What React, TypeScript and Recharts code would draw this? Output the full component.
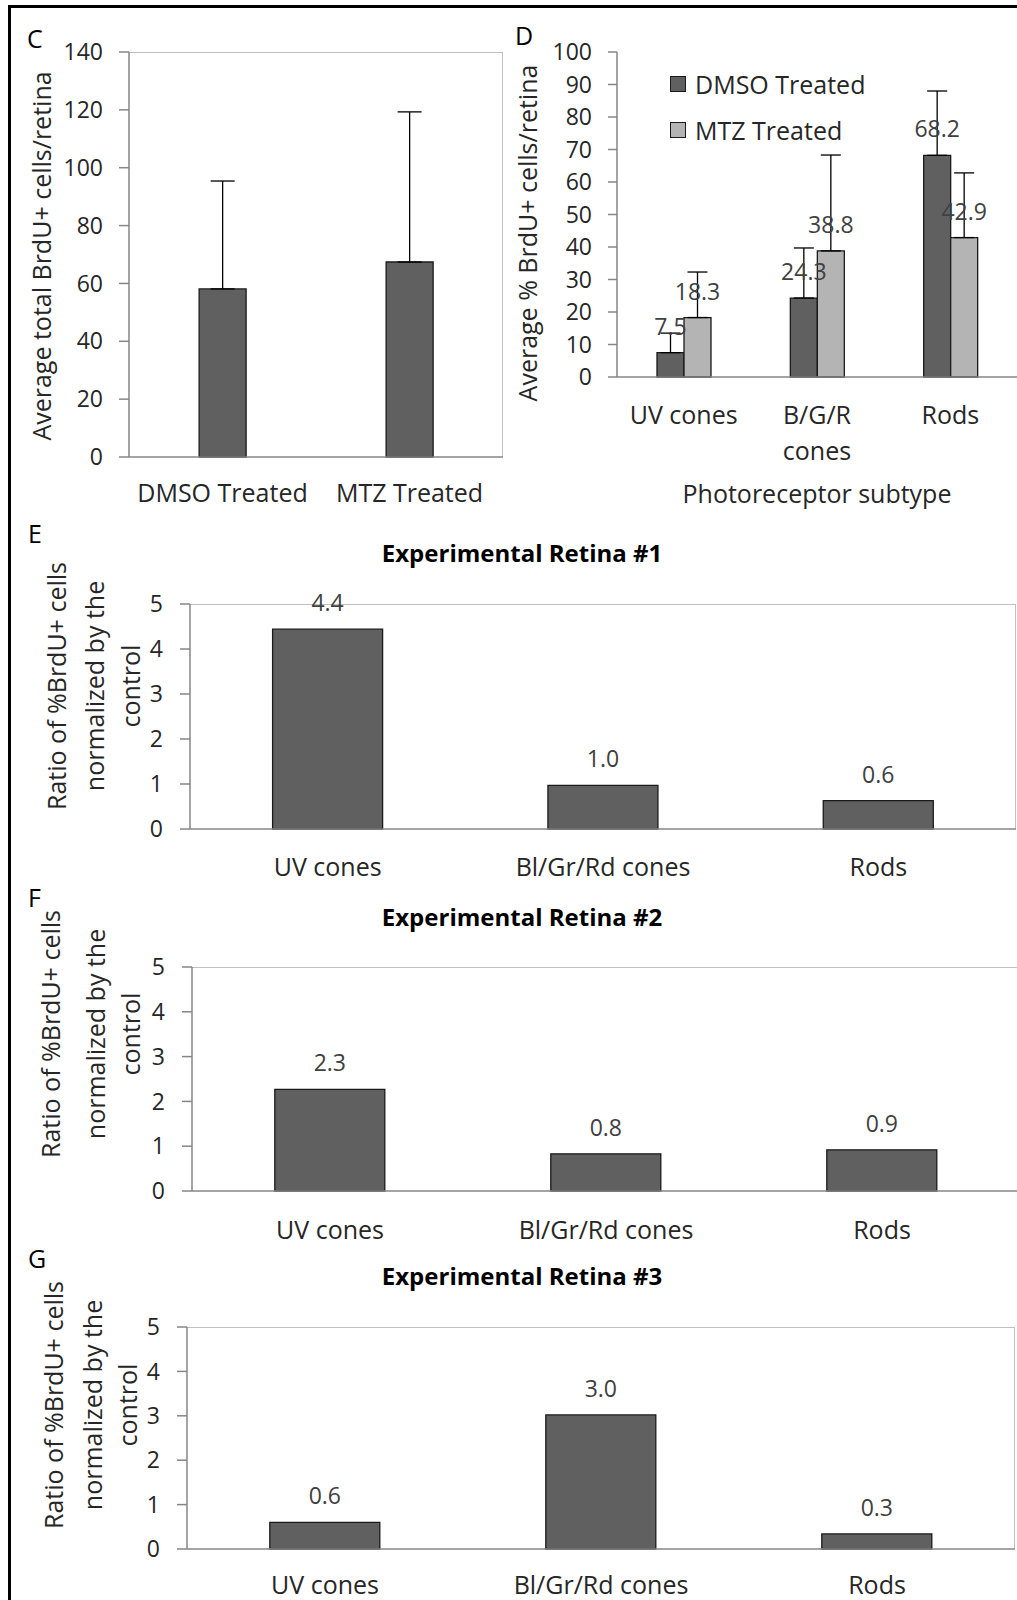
import React from "react";
import { BarChart, Bar, XAxis, YAxis, ErrorBar, LabelList } from "recharts";

// panel C - total BrdU+ cells
const totalCategories = ["DMSO Treated", "MTZ Treated"];
const totalMeans = [58.1, 67.4];
const totalErrors = [37.3, 51.9];
const totalTicks = [0, 20, 40, 60, 80, 100, 120, 140];

// panel D - % BrdU+ by photoreceptor subtype
const subtypeCategories = ["UV cones", "B/G/R\ncones", "Rods"];
const dmsoMeans = [7.5, 24.3, 68.2];
const dmsoErrors = [6.0, 15.4, 19.8];
const mtzMeans = [18.3, 38.8, 42.9];
const mtzErrors = [14.0, 29.5, 19.9];
const percentTicks = [0, 10, 20, 30, 40, 50, 60, 70, 80, 90, 100];

// panels E-G - ratios normalized by control
const ratioCategories = ["UV cones", "Bl/Gr/Rd cones", "Rods"];
const retina1 = [4.44, 0.97, 0.63];
const retina2 = [2.27, 0.83, 0.92];
const retina3 = [0.6, 3.02, 0.34];
const ratioTicks = [0, 1, 2, 3, 4, 5];

const FONT = '"Open Sans", sans-serif';
const TEXT = "#262626";
const AXIS = "#868686";
const BORDER = "#c0c0c0";
const DARK = "#606060";
const LIGHT = "#b4b4b4";
const OUTLINE = "#1a1a1a";

const fmt = (v: any) => Number(v).toFixed(1);

type Box = { x0: number; x1: number; y0: number; y1: number };

function margins(box: Box, L: number, T: number, W: number, H: number, yw: number, xh: number) {
  return {
    top: box.y0 - T,
    left: box.x0 - L - yw,
    right: L + W - box.x1,
    bottom: T + H - box.y1 - xh,
  };
}

function Txt({ x, y, children, size = 25, bold = false, rotate = false, anchor = "middle", color = TEXT }: any) {
  const tx = anchor === "start" ? "0" : "-50%";
  return (
    <div
      style={{
        position: "absolute",
        left: x,
        top: y,
        transform: `translate(${tx},-50%)${rotate ? " rotate(-90deg)" : ""}`,
        fontSize: size,
        fontWeight: bold ? 700 : 400,
        color,
        whiteSpace: "nowrap",
        lineHeight: 1,
      }}
    >
      {children}
    </div>
  );
}

function PlotBorder({ box }: { box: Box }) {
  return (
    <div
      style={{
        position: "absolute",
        left: box.x0,
        top: box.y0,
        width: box.x1 - box.x0,
        height: box.y1 - box.y0,
        borderTop: `1.5px solid ${BORDER}`,
        borderRight: `1.5px solid ${BORDER}`,
        boxSizing: "border-box",
      }}
    />
  );
}

const CatTick = (props: any) => {
  const { x, y, payload, size, gap } = props;
  const lines = String(payload.value).split("\n");
  return (
    <text x={x} y={y} textAnchor="middle" fill={TEXT} fontSize={size} fontFamily={FONT}>
      {lines.map((l, i) => (
        <tspan key={i} x={x} dy={i === 0 ? size * 0.71 : gap}>
          {l}
        </tspan>
      ))}
    </text>
  );
};

const yTick = { fontSize: 23, fill: TEXT, fontFamily: FONT };

function TotalPanel() {
  const box = { x0: 129, x1: 503, y0: 52, y1: 457 };
  const L = 0, T = 0, W = 510, H = 530;
  const data = totalCategories.map((name, i) => ({ name, value: totalMeans[i], err: [0, totalErrors[i]] }));
  return (
    <>
      <PlotBorder box={box} />
      <div style={{ position: "absolute", left: L, top: T }}>
        <BarChart width={W} height={H} data={data} margin={margins(box, L, T, W, H, 60, 50)} barCategoryGap="37.5%">
          <XAxis dataKey="name" height={50} axisLine={{ stroke: AXIS, strokeWidth: 1.5 }} tickLine={false} tickSize={0} tickMargin={27} tick={(p: any) => <CatTick {...p} size={25} gap={35} />} />
          <YAxis width={60} domain={[0, 140]} ticks={totalTicks} interval={0} axisLine={{ stroke: AXIS, strokeWidth: 1.5 }} tickLine={{ stroke: AXIS, strokeWidth: 1.5 }} tickSize={10} tickMargin={16} tick={yTick} />
          <Bar dataKey="value" fill={DARK} stroke={OUTLINE} strokeWidth={1.3} isAnimationActive={false}>
            <ErrorBar dataKey="err" width={12} stroke="#000" strokeWidth={1.3} direction="y" />
          </Bar>
        </BarChart>
      </div>
      <Txt x={27} y={38} anchor="start" color="#000">C</Txt>
      <Txt x={41} y={256} rotate>Average total BrdU+ cells/retina</Txt>
    </>
  );
}

function SubtypePanel() {
  const box = { x0: 617, x1: 1017, y0: 52, y1: 377 };
  const L = 510, T = 0, W = 507, H = 530;
  const data = subtypeCategories.map((name, i) => ({
    name,
    dmso: dmsoMeans[i],
    mtz: mtzMeans[i],
    dmsoErr: [0, dmsoErrors[i]],
    mtzErr: [0, mtzErrors[i]],
  }));
  const labelStyle = { fill: "#404040", fontSize: 23, fontFamily: FONT };
  return (
    <>
      <div style={{ position: "absolute", left: L, top: T }}>
        <BarChart width={W} height={H} data={data} margin={margins(box, L, T, W, H, 60, 80)} barCategoryGap="30%" barGap={0}>
          <XAxis dataKey="name" height={80} axisLine={{ stroke: AXIS, strokeWidth: 1.5 }} tickLine={false} tickSize={0} tickMargin={29} tick={(p: any) => <CatTick {...p} size={25} gap={36} />} />
          <YAxis width={60} domain={[0, 100]} ticks={percentTicks} interval={0} axisLine={{ stroke: AXIS, strokeWidth: 1.5 }} tickLine={{ stroke: AXIS, strokeWidth: 1.5 }} tickSize={9} tickMargin={16} tick={yTick} />
          <Bar dataKey="dmso" fill={DARK} stroke={OUTLINE} strokeWidth={1.3} isAnimationActive={false}>
            <LabelList dataKey="dmso" position="top" offset={18} formatter={fmt} {...labelStyle} />
            <ErrorBar dataKey="dmsoErr" width={10} stroke="#000" strokeWidth={1.3} direction="y" />
          </Bar>
          <Bar dataKey="mtz" fill={LIGHT} stroke={OUTLINE} strokeWidth={1.3} isAnimationActive={false}>
            <LabelList dataKey="mtz" position="top" offset={18} formatter={fmt} {...labelStyle} />
            <ErrorBar dataKey="mtzErr" width={10} stroke="#000" strokeWidth={1.3} direction="y" />
          </Bar>
        </BarChart>
      </div>
      <Txt x={515} y={35} anchor="start" color="#000">D</Txt>
      <Txt x={527} y={233} rotate>Average % BrdU+ cells/retina</Txt>
      <Txt x={817} y={493}>Photoreceptor subtype</Txt>
      {[
        { y: 84, fill: DARK, text: "DMSO Treated" },
        { y: 130, fill: LIGHT, text: "MTZ Treated" },
      ].map((l) => (
        <React.Fragment key={l.text}>
          <div style={{ position: "absolute", left: 670, top: l.y - 8, width: 16, height: 16, background: l.fill, border: `1px solid ${OUTLINE}`, boxSizing: "border-box" }} />
          <Txt x={695} y={l.y} anchor="start">{l.text}</Txt>
        </React.Fragment>
      ))}
    </>
  );
}

function RatioPanel({ letter, letterY, title, titleY, values, box, T, H, catMargin, labelY, labelXs, border }: any) {
  const L = 0, W = 1017, XH = 60;
  const data = ratioCategories.map((name, i) => ({ name, value: values[i] }));
  return (
    <>
      {border && <PlotBorder box={box} />}
      {!border && (
        <div style={{ position: "absolute", left: box.x0, top: box.y0, width: W - box.x0, borderTop: `1.5px solid ${BORDER}` }} />
      )}
      <div style={{ position: "absolute", left: L, top: T }}>
        <BarChart width={W} height={H} data={data} margin={margins(box, L, T, W, H, 60, XH)} barCategoryGap="30%">
          <XAxis dataKey="name" height={XH} axisLine={{ stroke: AXIS, strokeWidth: 1.5 }} tickLine={false} tickSize={0} tickMargin={catMargin} tick={(p: any) => <CatTick {...p} size={25} gap={35} />} />
          <YAxis width={60} domain={[0, 5]} ticks={ratioTicks} interval={0} axisLine={{ stroke: AXIS, strokeWidth: 1.5 }} tickLine={{ stroke: AXIS, strokeWidth: 1.5 }} tickSize={10} tickMargin={17} tick={yTick} />
          <Bar dataKey="value" fill={DARK} stroke={OUTLINE} strokeWidth={1.3} isAnimationActive={false}>
            <LabelList dataKey="value" position="top" offset={18} formatter={fmt} fill="#404040" fontSize={23} fontFamily={FONT} />
          </Bar>
        </BarChart>
      </div>
      <Txt x={28} y={letterY} anchor="start" color="#000">{letter}</Txt>
      <Txt x={522} y={titleY} bold size={24} color="#000">{title}</Txt>
      <Txt x={labelXs[0]} y={labelY} rotate>Ratio of %BrdU+ cells</Txt>
      <Txt x={labelXs[1]} y={labelY} rotate>normalized by the</Txt>
      <Txt x={labelXs[2]} y={labelY} rotate>control</Txt>
    </>
  );
}

export default function App() {
  return (
    <div
      style={{
        position: "absolute",
        left: 0,
        top: 0,
        width: 1017,
        height: 1600,
        background: "#fff",
        overflow: "hidden",
        fontFamily: FONT,
      }}
    >
      <TotalPanel />
      <SubtypePanel />
      <RatioPanel
        letter="E" letterY={533} title="Experimental Retina #1" titleY={553}
        values={retina1} box={{ x0: 190, x1: 1016, y0: 604, y1: 829 }} T={520} H={380}
        catMargin={29} labelY={686} labelXs={[56, 94, 130]} border
      />
      <RatioPanel
        letter="F" letterY={897} title="Experimental Retina #2" titleY={917}
        values={retina2} box={{ x0: 192, x1: 1020, y0: 967, y1: 1191 }} T={880} H={380}
        catMargin={30} labelY={1034} labelXs={[50, 95, 130]} border={false}
      />
      <RatioPanel
        letter="G" letterY={1258} title="Experimental Retina #3" titleY={1276}
        values={retina3} box={{ x0: 187, x1: 1015, y0: 1327, y1: 1549 }} T={1240} H={360}
        catMargin={27} labelY={1405} labelXs={[53, 92, 127]} border
      />
      <div
        style={{
          position: "absolute",
          left: 8,
          top: 5,
          width: 1017,
          height: 1600,
          borderLeft: "3px solid #000",
          borderTop: "3px solid #000",
          pointerEvents: "none",
        }}
      />
    </div>
  );
}
